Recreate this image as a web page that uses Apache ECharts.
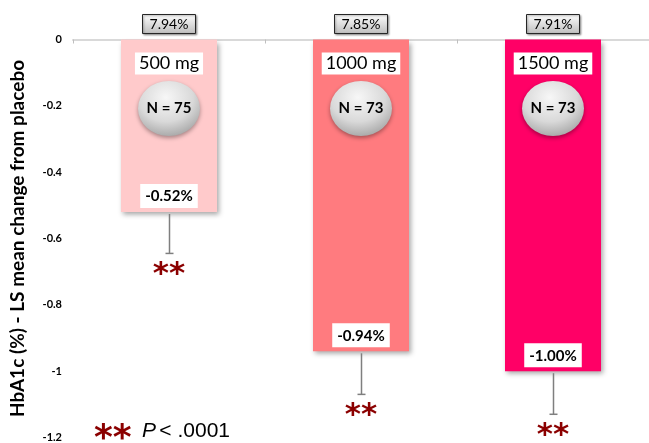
<!DOCTYPE html>
<html>
<head>
<meta charset="utf-8">
<script src="https://cdn.jsdelivr.net/npm/echarts@6/dist/echarts.min.js"></script>
<style>html,body{margin:0;padding:0;background:#fff}#c{width:649px;height:443px}</style>
</head>
<body>
<div id="c"></div>
<script>
var categories = ['500 mg', '1000 mg', '1500 mg'];
var changes = [-0.52, -0.94, -1.00];
var errors = [0.125, 0.13, 0.13];
var baselines = ['7.94%', '7.85%', '7.91%'];
var nCounts = [75, 73, 73];
var barColors = ['#FFCACB', '#FF7B7F', '#FF0066'];
var yTicks = [0, -0.2, -0.4, -0.6, -0.8, -1, -1.2];
var pNote = 'P < .0001';

var FONT = 'Lato, "Open Sans", sans-serif';
var chart = echarts.init(document.getElementById('c'));

var decoData = categories.map(function (c, i) { return [i, changes[i], errors[i]]; });

function renderDeco(params, api) {
  var i = params.dataIndex;
  var v = api.value(1), err = api.value(2);
  var top = api.coord([api.value(0), 0]);
  var bot = api.coord([api.value(0), v]);
  var end = api.coord([api.value(0), v - err]);
  var x = top[0];
  var ex = Math.round(x) + 0.5;
  var cy = top[1] + 69;
  return {
    type: 'group',
    children: [
      { type: 'line', shape: { x1: ex, y1: bot[1] + 2, x2: ex, y2: end[1] }, style: { stroke: '#7f7f7f', lineWidth: 1.5 } },
      { type: 'line', shape: { x1: ex - 4, y1: end[1], x2: ex + 4, y2: end[1] }, style: { stroke: '#7f7f7f', lineWidth: 1.5 } },
      { type: 'text', x: x, y: end[1] + 6, style: { text: '**', font: 'bold 31px "DejaVu Sans"', fill: '#8B0000', align: 'center', verticalAlign: 'top' } },
      { type: 'rect', shape: { x: x - 26.5, y: top[1] - 25, width: 53, height: 19 },
        style: { stroke: '#262626', lineWidth: 1, shadowBlur: 2, shadowOffsetX: 1, shadowOffsetY: 1, shadowColor: 'rgba(0,0,0,0.35)',
          fill: new echarts.graphic.LinearGradient(0, 0, 0, 1, [{ offset: 0, color: '#ffffff' }, { offset: 1, color: '#bdbdbd' }]) } },
      { type: 'text', x: x, y: top[1] - 15.5, style: { text: baselines[i], font: '14px ' + FONT, fill: '#000', align: 'center', verticalAlign: 'middle' } },
      { type: 'text', x: x, y: top[1] + 24, style: { text: categories[i], font: '18px ' + FONT, fill: '#000', align: 'center', verticalAlign: 'middle', backgroundColor: '#fff', padding: [2, 4, 2, 4] } },
      { type: 'circle', x: x, y: cy, scaleX: 31 / 27.5, shape: { cx: 0, cy: 0, r: 27.5 },
        style: { shadowBlur: 4, shadowOffsetY: 2, shadowColor: 'rgba(0,0,0,0.35)',
          fill: new echarts.graphic.RadialGradient(0.45, 0.3, 0.8, [{ offset: 0, color: '#f7f7f7' }, { offset: 0.55, color: '#d9d9d9' }, { offset: 1, color: '#9a9a9a' }]) } },
      { type: 'text', x: x, y: cy, style: { text: 'N = ' + nCounts[i], font: 'bold 15px ' + FONT, fill: '#000', align: 'center', verticalAlign: 'middle' } }
    ]
  };
}

chart.setOption({
  animation: false,
  grid: { left: 72, right: -3, top: 39.5, bottom: 4.5, containLabel: false },
  xAxis: {
    type: 'category', data: categories,
    axisLine: { onZero: true, lineStyle: { color: '#d9d9d9', width: 2 } },
    axisTick: { show: true, length: 4, lineStyle: { color: '#bfbfbf' } },
    axisLabel: { show: false }, splitLine: { show: false }
  },
  yAxis: {
    type: 'value', min: -1.2, max: 0, interval: 0.2,
    name: 'HbA1c (%) - LS mean change from placebo', nameLocation: 'middle', nameGap: 46,
    nameTextStyle: { fontFamily: FONT, fontWeight: 'bold', fontSize: 19, color: '#000' },
    axisLine: { show: false }, axisTick: { show: false }, splitLine: { show: false },
    axisLabel: { fontFamily: FONT, fontWeight: 'bold', fontSize: 11, color: '#000', margin: 11,
      formatter: function (v) { var r = Math.round(v * 10) / 10; for (var k = 0; k < yTicks.length; k++) { if (Math.abs(yTicks[k] - r) < 1e-6) return String(yTicks[k]); } return String(r); } }
  },
  series: [
    {
      type: 'bar', barWidth: '50%', z: 2,
      data: changes.map(function (v, i) { return { value: v, itemStyle: { color: barColors[i] } }; }),
      itemStyle: { shadowBlur: 5, shadowOffsetX: 2, shadowOffsetY: 3, shadowColor: 'rgba(0,0,0,0.35)' },
      label: { show: true, position: 'insideBottom', distance: 4, backgroundColor: '#fff', padding: [5, 5, 4, 5],
        fontFamily: FONT, fontWeight: 'bold', fontSize: 15, color: '#000',
        formatter: function (p) { return p.value.toFixed(2) + '%'; } }
    },
    { type: 'custom', z: 5, renderItem: renderDeco, data: decoData, clip: false }
  ],
  graphic: [
    { type: 'text', left: 94, top: 422, style: { text: '**', font: 'bold 36px "DejaVu Sans"', fill: '#8B0000' } },
    { type: 'text', left: 142, top: 421, style: { text: '{i|P} {n|' + pNote.slice(2) + '}', rich: { i: { fontFamily: '"Liberation Sans", Arial, sans-serif', fontStyle: 'italic', fontSize: 21, color: '#8B0000' }, n: { fontFamily: '"Liberation Sans", Arial, sans-serif', fontSize: 21, color: '#8B0000' } } } }
  ]
});
</script>
</body>
</html>
